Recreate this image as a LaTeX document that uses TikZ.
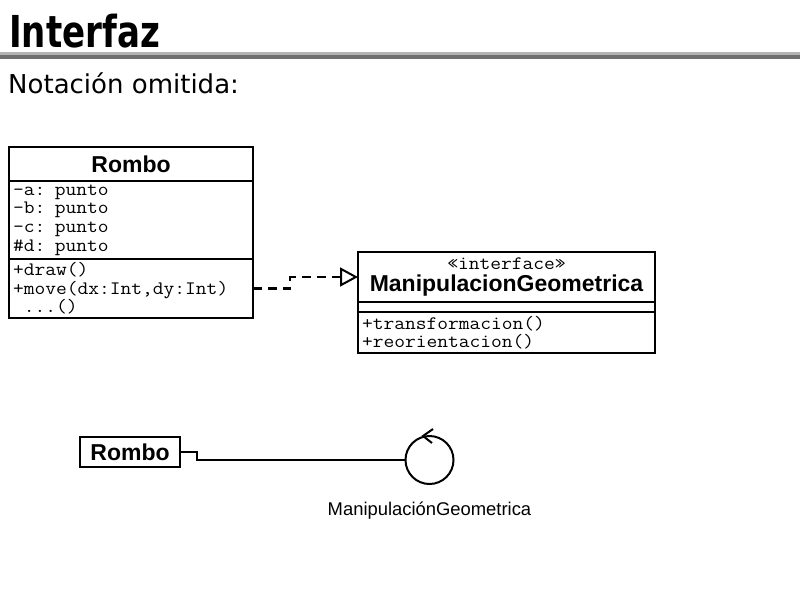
\documentclass[tikz,border=0pt]{standalone}
\usepackage{fontspec}
\setmainfont{DejaVu Sans}
\newfontfamily\titlefont[FakeStretch=0.86, BoldFont={DejaVu Sans Condensed Bold}]{DejaVu Sans Condensed}
\newfontfamily\umlsans{Liberation Sans}
\newfontfamily\umlmono[FakeStretch=1.1]{Latin Modern Mono}
\usepackage{tikz}
\usetikzlibrary{arrows.meta,positioning}
\definecolor{rulelight}{HTML}{B4B4B4}
\definecolor{ruledark}{HTML}{707070}

\begin{document}
\begin{tikzpicture}[x=1pt, y=-1pt,
    box/.style={draw, line width=2pt, outer sep=0pt, inner sep=0pt},
    classname/.style={box, font=\umlsans\bfseries\fontsize{23}{22.5}\selectfont},
    compart/.style={box, align=left, inner xsep=4pt, font=\umlmono\fontsize{19}{18.6}\selectfont},
    realize/.style={line width=2.2pt, dash pattern=on 9pt off 6pt,
      -{Triangle[open, length=18pt, width=19pt, line width=2pt]}},
    provides/.style={line width=2pt}]
  \useasboundingbox (0,0) rectangle (800,600);

  % Slide heading
  \node[anchor=base west, inner sep=0pt, font=\titlefont\bfseries\fontsize{44}{44}\selectfont] (title) at (9,47) {Interfaz};
  \draw[rulelight, line width=3pt] (0,53) -- (800,53);
  \draw[ruledark, line width=4pt] (0,57) -- (800,57);
  \node[anchor=base west, inner sep=0pt, font=\fontsize{26}{26}\selectfont] (subtitle) at (8,93) {Notación omitida:};

  % Class Rombo
  \node[classname, minimum width=244, minimum height=34, anchor=north west] (rombo) at (9,147) {Rombo};
  \node[compart, text width=236, minimum height=78, below=0pt of rombo] (romboatt)
    {-a: punto\\-b: punto\\-c: punto\\\#d: punto};
  \node[compart, text width=236, minimum height=59, below=0pt of romboatt] (rombomth)
    {+draw()\\+move(dx:Int,dy:Int)\\\hphantom{.}...()};

  % Interface ManipulacionGeometrica
  \node[classname, align=center, text width=297, minimum height=50, anchor=north west] (iface) at (358,252)
    {{\umlmono\mdseries\fontsize{19}{22.5}\selectfont «interface»}\\ManipulacionGeometrica};
  \node[box, minimum width=297, minimum height=10, below=0pt of iface] (ifaceatt) {};
  \node[compart, text width=289, minimum height=41, below=0pt of ifaceatt] (ifacemth)
    {+transformacion()\\+reorientacion()};

  % Realization
  \draw[realize] (rombomth.east) -- ++(37,0) |- (iface.west);

  % Lollipop notation
  \node[classname, minimum width=100, minimum height=30, anchor=center] (rombo2) at (130,452) {Rombo};
  \node[draw, circle, line width=2pt, minimum size=48, inner sep=0pt] (lollipop) at (429.5,460) {};
  \draw[provides] (rombo2.east) -- ++(17,0) |- (lollipop.west);
  \draw[provides] ([shift={(3.5,-6)}]lollipop.north) -- ([shift={(-6.5,1)}]lollipop.north)
    -- ([shift={(2.5,8)}]lollipop.north);
  \node[below=17pt of lollipop, inner sep=0pt, font=\umlsans\fontsize{18.4}{18.4}\selectfont] (ifacename)
    {ManipulaciónGeometrica};
\end{tikzpicture}
\end{document}
